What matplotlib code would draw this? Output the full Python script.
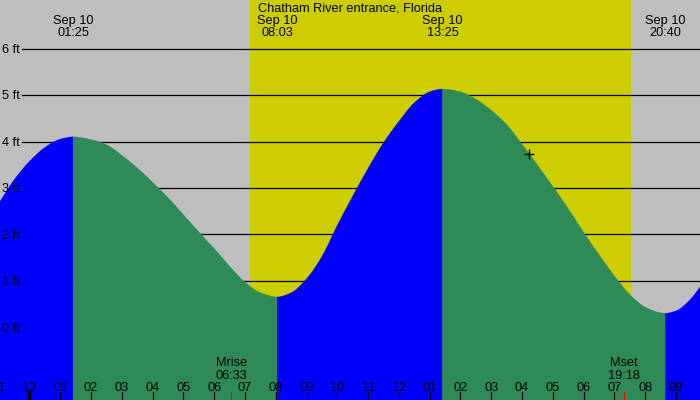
import matplotlib
matplotlib.use("Agg")
import matplotlib.pyplot as plt
from matplotlib.path import Path
from matplotlib.patches import PathPatch
import numpy as np

station = "Chatham River entrance, Florida"
day = "Sep 10"

# water level, hours after midnight Sep 10 -> feet
hours = [-1.0, -0.5, 0.0, 0.5, 1.0, 1.417, 2.0, 2.5, 3.0, 3.5, 4.0, 4.5, 5.0,
         5.5, 6.0, 6.5, 7.0, 7.5, 8.05, 8.5, 9.0, 9.5, 10.0, 10.5, 11.0, 11.5,
         12.0, 12.5, 13.0, 13.417, 14.0, 14.5, 15.0, 15.5, 16.0, 16.5, 17.0,
         17.5, 18.0, 18.5, 19.0, 19.5, 20.0, 20.5, 20.667, 21.0, 21.5, 21.8]
heights = [2.66, 3.17, 3.57, 3.87, 4.05, 4.10, 4.04, 3.93, 3.70, 3.43, 3.12,
           2.79, 2.42, 2.05, 1.69, 1.31, 0.97, 0.74, 0.65, 0.74, 1.04, 1.52,
           2.19, 2.82, 3.42, 3.97, 4.43, 4.83, 5.07, 5.13, 5.07, 4.91, 4.67,
           4.36, 3.94, 3.49, 3.03, 2.55, 2.04, 1.56, 1.10, 0.70, 0.43, 0.31,
           0.30, 0.35, 0.62, 0.88]

tide_clock = ["01:25", "08:03", "13:25", "20:40"]
moon_names = ["Mrise", "Mset"]
moon_clock = ["06:33", "19:18"]
sun_clock = ["07:10", "19:33"]   # yellow band = daylight
now = (16.23, 3.73)

hour_ticks = list(range(-1, 22))
hour_labels = ["11", "12", "01", "02", "03", "04", "05", "06", "07", "08", "09",
               "10", "11", "12", "01", "02", "03", "04", "05", "06", "07", "08", "09"]
ft_levels = [0, 1, 2, 3, 4, 5, 6]


def clock(s):
    hh, mm = s.split(":")
    return int(hh) + int(mm) / 60


def slopes(x, y):
    # monotone (pchip style) tangents so the bezier edge never overshoots
    hs = np.diff(x)
    d = np.diff(y) / hs
    m = np.zeros(len(x))
    m[0], m[-1] = d[0], d[-1]
    for k in range(1, len(x) - 1):
        if d[k - 1] * d[k] > 0:
            w1 = 2 * hs[k] + hs[k - 1]
            w2 = hs[k] + 2 * hs[k - 1]
            m[k] = (w1 + w2) / (w1 / d[k - 1] + w2 / d[k])
    return m


plt.rcParams["font.family"] = ["Liberation Sans", "DejaVu Sans"]
GRAY = "#bebebe"
DAY = "#cdcd00"
RISE = "#0000ff"
FALL = "#2e8b57"
FS = 9.2
BOTTOM = -2

fig = plt.figure(figsize=(7, 4), dpi=100)
ax = fig.add_axes([0, 0, 1, 1])
ax.set_xlim(-0.958, 21.78)
ax.set_ylim(-1.567, 7.05)
ax.axis("off")
ax.add_patch(plt.Rectangle((0, 0), 1, 1, transform=ax.transAxes, color=GRAY, zorder=0))
ax.axvspan(clock(sun_clock[0]), clock(sun_clock[1]), color=DAY, lw=0, zorder=0.5)
xt = ax.get_xaxis_transform()
yt = ax.get_yaxis_transform()

# foot lines and labels
for lv in ft_levels:
    ax.plot([0.031, 1], [lv, lv], color="black", lw=0.9, transform=yt, zorder=1)
    ax.text(0.003, lv - 0.093, f"{lv} ft", transform=yt,
            ha="left", va="baseline", fontsize=FS, zorder=5)

# tide fill, blue while rising, green while falling
t = np.array(hours)
h = np.array(heights)
m = slopes(t, h)
rising = np.diff(h) > 0
start = 0
for i in range(1, len(rising) + 1):
    if i == len(rising) or rising[i] != rising[start]:
        verts = [(t[start], BOTTOM), (t[start], h[start])]
        codes = [Path.MOVETO, Path.LINETO]
        for k in range(start, i):
            dx = (t[k + 1] - t[k]) / 3
            verts += [(t[k] + dx, h[k] + m[k] * dx),
                      (t[k + 1] - dx, h[k + 1] - m[k + 1] * dx),
                      (t[k + 1], h[k + 1])]
            codes += [Path.CURVE4] * 3
        verts += [(t[i], BOTTOM), (t[start], BOTTOM)]
        codes += [Path.LINETO, Path.CLOSEPOLY]
        col = RISE if rising[start] else FALL
        ax.add_patch(PathPatch(Path(verts, codes), facecolor=col, edgecolor=col,
                               lw=0.4, zorder=2))
        start = i

ax.plot(*now, marker="+", color="black", ms=7, mew=1, zorder=4)

# top labels
ax.text(7.42, 0.9708, station, transform=xt,
        ha="left", va="baseline", fontsize=FS, zorder=5)
for c in tide_clock:
    x = clock(c)
    ax.text(x, 0.9393, day, transform=xt,
            ha="center", va="baseline", fontsize=FS, zorder=5)
    ax.text(x, 0.9108, c, transform=xt,
            ha="center", va="baseline", fontsize=FS, zorder=5)

# moon labels
for name, c in zip(moon_names, moon_clock):
    x = clock(c)
    ax.text(x, 0.085, name, transform=xt,
            ha="center", va="baseline", fontsize=FS, zorder=5)
    ax.text(x, 0.0533, c, transform=xt,
            ha="center", va="baseline", fontsize=FS, zorder=5)
    ax.plot([x, x], [0, 0.021], color="red", lw=0.8, transform=xt, zorder=6)

# hour ticks
for hr, lab in zip(hour_ticks, hour_labels):
    ax.plot([hr, hr], [0, 0.021], color="black", lw=2.5 if hr == 0 else 0.9,
            transform=xt, zorder=5)
    ax.text(hr, 0.0233, lab, transform=xt,
            ha="center", va="baseline", fontsize=FS, zorder=5)

fig.savefig("out.png", dpi=100)
